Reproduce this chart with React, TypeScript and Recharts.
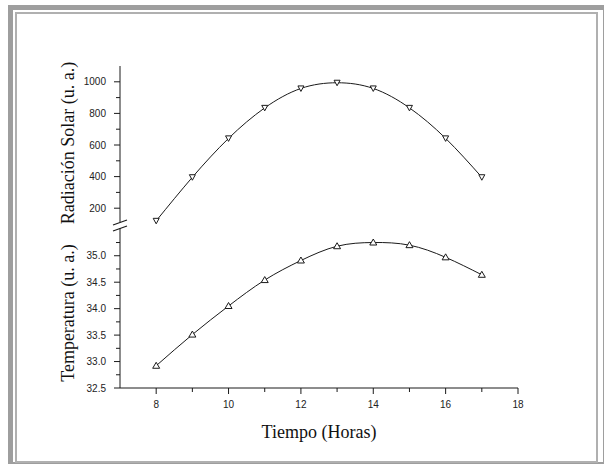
import { Line, LineChart, XAxis, YAxis } from "recharts";

const hours = [8, 9, 10, 11, 12, 13, 14, 15, 16, 17];
const radiation = [120, 396, 642, 835, 958, 994, 958, 835, 642, 396];
const temperature = [32.92, 33.51, 34.05, 34.54, 34.91, 35.18, 35.25, 35.2, 34.97, 34.64];

const xTicks = [8, 9, 10, 11, 12, 13, 14, 15, 16, 17, 18];
const xLabels = [8, 10, 12, 14, 16, 18];
const radTicks = [200, 300, 400, 500, 600, 700, 800, 900, 1000];
const radLabels = [200, 400, 600, 800, 1000];
const tempTicks = [32.5, 32.75, 33, 33.25, 33.5, 33.75, 34, 34.25, 34.5, 34.75, 35, 35.25];
const tempLabels = [32.5, 33, 33.5, 34, 34.5, 35];

const rows = hours.map((h, i) => ({ hour: h, radiation: radiation[i], temperature: temperature[i] }));

const SANS = "'Liberation Sans', Arial, sans-serif";
const SERIF = "'Liberation Serif', 'Times New Roman', serif";
const INK = "#1a1a1a";

function makeYTick(labels: number[], digits: number) {
  return (p: any) => {
    const major = labels.includes(p.payload.value);
    return (
      <g>
        <line x1={p.x - (major ? 6 : 4)} x2={p.x} y1={p.y} y2={p.y} stroke={INK} />
        {major && (
          <text x={p.x - 14} y={p.y} dy="0.35em" textAnchor="end" fontFamily={SANS} fontSize={10} fill="#222">
            {p.payload.value.toFixed(digits)}
          </text>
        )}
      </g>
    );
  };
}

function XTick(p: any) {
  const major = xLabels.includes(p.payload.value);
  return (
    <g>
      <line x1={p.x} x2={p.x} y1={p.y} y2={p.y + (major ? 6 : 4)} stroke={INK} />
      {major && (
        <text x={p.x} y={p.y + 16} dy="0.35em" textAnchor="middle" fontFamily={SANS} fontSize={10} fill="#222">
          {p.payload.value}
        </text>
      )}
    </g>
  );
}

function yTitle(text: string, shift: number) {
  return (p: any) => {
    const vb = p.viewBox;
    const x = vb.x + 74;
    const y = vb.y + vb.height / 2 + shift;
    return (
      <text x={x} y={y} transform={`rotate(-90, ${x}, ${y})`} textAnchor="middle" fontFamily={SERIF} fontSize={18} fill="#111">
        {text}
      </text>
    );
  };
}

function xTitle(p: any) {
  const vb = p.viewBox;
  return (
    <text x={vb.x + vb.width / 2} y={vb.y + 50} textAnchor="middle" fontFamily={SERIF} fontSize={18} fill="#111">
      Tiempo (Horas)
    </text>
  );
}

function DownTri(p: any) {
  const { cx, cy } = p;
  return (
    <path
      key={p.key}
      d={`M${cx - 3},${cy - 2.5} L${cx + 3},${cy - 2.5} L${cx},${cy + 3} Z`}
      fill="#fff"
      stroke={INK}
      strokeWidth={1}
    />
  );
}

function UpTri(p: any) {
  const { cx, cy } = p;
  return (
    <path
      key={p.key}
      d={`M${cx - 3.5},${cy + 2.5} L${cx + 3.5},${cy + 2.5} L${cx},${cy - 3.5} Z`}
      fill="#fff"
      stroke={INK}
      strokeWidth={1}
    />
  );
}

export default function App() {
  return (
    <div style={{ position: "absolute", left: 0, top: 0, width: 604, height: 464, overflow: "hidden", background: "#fff" }}>
      <div style={{ position: "absolute", left: 8, top: 5, width: 600, height: 462, border: "5px solid #9e9e9e", boxSizing: "border-box" }} />
      <div style={{ position: "absolute", left: 15, top: 12, width: 583, height: 451, border: "2px solid #b0b0b0", boxSizing: "border-box" }} />

      {/* upper panel: radiacion */}
      <div style={{ position: "absolute", left: 0, top: 0 }}>
        <LineChart width={604} height={240} data={rows} margin={{ top: 66, right: 86, bottom: 16, left: 0 }}>
          <XAxis dataKey="hour" type="number" domain={[7, 18]} orientation="top" height={0} tick={false} tickLine={false} axisLine={{ stroke: INK }} />
          <YAxis
            yAxisId="l"
            width={120}
            type="number"
            domain={[100, 1100]}
            ticks={radTicks}
            interval={0}
            tickSize={0}
            tickMargin={0}
            tickLine={false}
            axisLine={{ stroke: INK }}
            tick={makeYTick(radLabels, 0)}
            label={{ content: yTitle("Radiación Solar (u. a.)", -2) }}
          />
          <YAxis yAxisId="r" orientation="right" width={0} domain={[100, 1100]} tick={false} tickLine={false} axisLine={{ stroke: INK }} />
          <Line yAxisId="l" dataKey="radiation" type="natural" stroke={INK} strokeWidth={1} dot={DownTri} isAnimationActive={false} />
        </LineChart>
      </div>

      {/* lower panel: temperatura */}
      <div style={{ position: "absolute", left: 0, top: 200 }}>
        <LineChart width={604} height={264} data={rows} margin={{ top: 24, right: 86, bottom: 0, left: 0 }}>
          <XAxis
            dataKey="hour"
            type="number"
            domain={[7, 18]}
            ticks={xTicks}
            interval={0}
            height={76}
            tickSize={0}
            tickMargin={0}
            tickLine={false}
            axisLine={{ stroke: INK }}
            tick={XTick}
            label={{ content: xTitle }}
          />
          <YAxis
            yAxisId="l"
            width={120}
            type="number"
            domain={[32.5, 35.6]}
            ticks={tempTicks}
            interval={0}
            tickSize={0}
            tickMargin={0}
            tickLine={false}
            axisLine={{ stroke: INK }}
            tick={makeYTick(tempLabels, 1)}
            label={{ content: yTitle("Temperatura (u. a.)", 7) }}
          />
          <YAxis yAxisId="r" orientation="right" width={0} domain={[32.5, 35.6]} tick={false} tickLine={false} axisLine={{ stroke: INK }} />
          <Line yAxisId="l" dataKey="temperature" type="natural" stroke={INK} strokeWidth={1} dot={UpTri} isAnimationActive={false} />
        </LineChart>
      </div>

      {/* axis break marks */}
      <svg width={604} height={464} style={{ position: "absolute", left: 0, top: 0, pointerEvents: "none" }}>
        <rect x={117} y={222} width={6} height={6} fill="#fff" />
        <line x1={113} y1={225} x2={127} y2={220} stroke={INK} strokeWidth={1.2} />
        <line x1={113} y1={231} x2={127} y2={226} stroke={INK} strokeWidth={1.2} />
      </svg>
    </div>
  );
}
